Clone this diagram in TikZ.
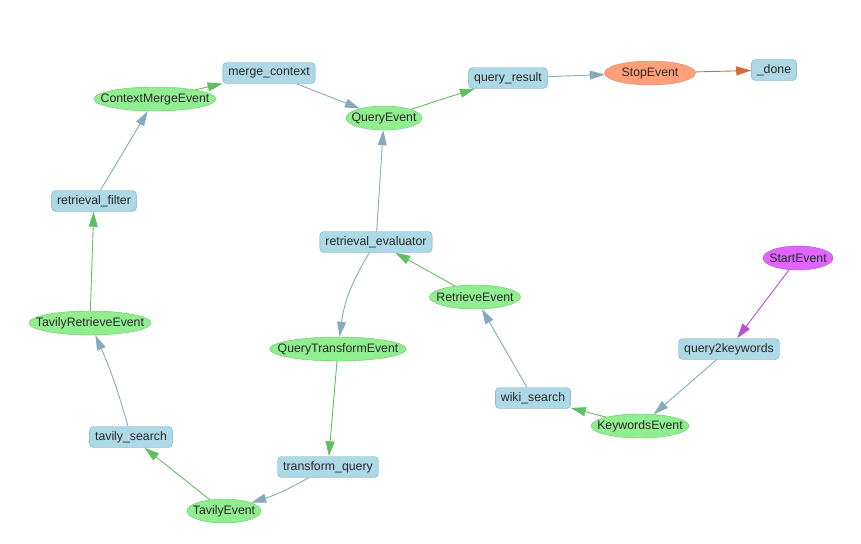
\documentclass[tikz,border=0pt]{standalone}
\usepackage{fontspec}
\setmainfont{Liberation Sans}
\usetikzlibrary{shapes.geometric,arrows.meta}
\definecolor{stepfill}{RGB}{173,216,230}
\definecolor{stepline}{RGB}{122,170,188}
\definecolor{eventfill}{RGB}{144,238,144}
\definecolor{eventline}{RGB}{106,196,106}
\definecolor{stopfill}{RGB}{255,160,122}
\definecolor{stopline}{RGB}{222,128,96}
\definecolor{startfill}{RGB}{224,102,255}
\definecolor{startline}{RGB}{176,78,206}
\definecolor{greyedge}{RGB}{134,170,186}
\definecolor{greenedge}{RGB}{98,190,98}
\definecolor{purpleedge}{RGB}{180,80,210}
\definecolor{orangeedge}{RGB}{214,106,62}
\definecolor{labeltext}{RGB}{40,40,40}
\begin{document}
\begin{tikzpicture}[x=1pt,y=1pt,
                    font=\fontsize{12.3}{14}\selectfont,text=labeltext,
                    step node/.style={rectangle,rounded corners=4pt,draw=stepline,fill=stepfill,
                                      minimum height=21pt,inner xsep=5.5pt,inner ysep=0pt},
                    event node/.style={ellipse,draw=eventline,fill=eventfill,
                                       inner xsep=-12pt,inner ysep=0pt,minimum height=24pt},
                    stop node/.style={event node,draw=stopline,fill=stopfill},
                    start node/.style={event node,draw=startline,fill=startfill},
                    link/.style={line width=0.9pt,-{Triangle[length=15pt,width=9pt]}},
                    emit/.style={link,greyedge},
                    feed/.style={link,greenedge}
                   ]
  \useasboundingbox (0,0) rectangle (861,-543);
  % steps
  \node[step node] (merge) at (269,-73) {merge\_context};
  \node[step node] (result) at (508,-78) {query\_result};
  \node[step node] (done) at (774,-70) {\_done};
  \node[step node] (filter) at (94,-201) {retrieval\_filter};
  \node[step node] (evaluator) at (376,-242) {retrieval\_evaluator};
  \node[step node] (keywords) at (729,-349) {query2keywords};
  \node[step node] (wiki) at (533,-398) {wiki\_search};
  \node[step node] (tavily) at (131,-437) {tavily\_search};
  \node[step node] (transform) at (328,-467) {transform\_query};
  % events
  \node[event node,minimum width=122pt] (mergeev) at (155,-99) {ContextMergeEvent};
  \node[event node,minimum width=76pt] (queryev) at (384,-118) {QueryEvent};
  \node[stop node,minimum width=91pt] (stopev) at (650,-73) {StopEvent};
  \node[start node,minimum width=70pt] (startev) at (798,-258) {StartEvent};
  \node[event node,minimum width=91pt] (retrieveev) at (475,-297) {RetrieveEvent};
  \node[event node,minimum width=122pt] (tavretev) at (90,-323) {TavilyRetrieveEvent};
  \node[event node,minimum width=136pt] (transformev) at (338,-349) {QueryTransformEvent};
  \node[event node,minimum width=98pt] (keywordsev) at (640,-426) {KeywordsEvent};
  \node[event node,minimum width=74pt] (tavilyev) at (224,-511) {TavilyEvent};
  \path%
   (startev) edge [link,purpleedge] (keywords)
   (keywords) edge [emit] (keywordsev)
   (keywordsev) edge [feed] (wiki)
   (wiki) edge [emit] (retrieveev)
   (retrieveev) edge [feed] (evaluator)
   (evaluator) edge [emit] (queryev)
   (evaluator) edge [emit,bend right=12] (transformev)
   (transformev) edge [feed] (transform)
   (transform) edge [emit,bend left=6] (tavilyev)
   (tavilyev) edge [feed] (tavily)
   (tavily) edge [emit,bend right=4] (tavretev)
   (tavretev) edge [feed] (filter)
   (filter) edge [emit] (mergeev)
   (mergeev) edge [feed] (merge)
   (merge) edge [emit] (queryev)
   (queryev) edge [feed] (result)
   (result) edge [emit] (stopev)
   (stopev) edge [link,orangeedge] (done);
\end{tikzpicture}
\end{document}
